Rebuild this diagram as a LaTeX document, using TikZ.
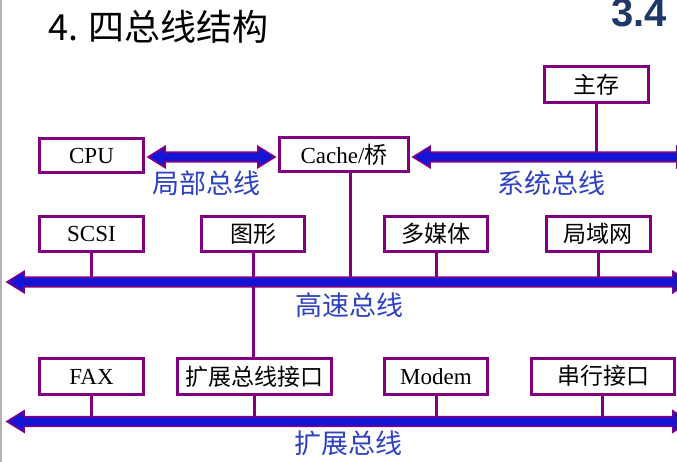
\documentclass[tikz,border=0pt]{standalone}
\usepackage{fontspec}
\setmainfont{Liberation Serif}
\newfontfamily\cjk{Noto Sans CJK SC}
\newfontfamily\sansf{Liberation Sans}
\usetikzlibrary{calc}
\definecolor{bpurple}{RGB}{128,0,128}
\definecolor{bblue}{RGB}{20,20,215}
\definecolor{lblue}{RGB}{45,65,195}
\definecolor{numblue}{RGB}{30,55,105}
\newcommand{\dbus}[2]{%
  \draw[bus] (#1) -- ($(#1)+(17,-10.5)$) -- ($(#1)+(17,-4.8)$) -- ($(#2)+(-17,-4.8)$) -- ($(#2)+(-17,-10.5)$) -- (#2) -- ($(#2)+(-17,10.5)$) -- ($(#2)+(-17,4.8)$) -- ($(#1)+(17,4.8)$) -- ($(#1)+(17,10.5)$) -- cycle;}
\tikzset{
  box/.style={draw=bpurple, line width=3pt, fill=white, inner sep=0pt, font=\fontsize{23}{23}\selectfont},
  conn/.style={draw=bpurple, line width=3pt},
  bus/.style={draw=bpurple, fill=bblue, line width=1.6pt, line join=miter},
  lbl/.style={text=lblue, font=\cjk\fontsize{27}{27}\selectfont, inner sep=0pt}
}
\begin{document}
\begin{tikzpicture}[x=1pt,y=-1pt]
\useasboundingbox (0,0) rectangle (677,462);
\draw[gray!60, line width=1.5pt] (1,0) -- (1,462);
% title
\node[anchor=west, font=\cjk\fontsize{36}{36}\selectfont, inner sep=0pt] (title) at (48,27) {4. 四总线结构};
\node[anchor=base east, font=\sansf\bfseries\fontsize{40}{40}\selectfont, text=numblue, inner sep=0pt] (num) at (667,27) {3.4};
% boxes
\node[box, minimum width=104pt, minimum height=36pt] (mem) at (596.5,84.5) {\cjk 主存};
\node[box, minimum width=104pt, minimum height=34pt] (cpu) at (91.5,156) {CPU};
\node[box, minimum width=129pt, minimum height=34pt] (cache) at (344,155) {Cache/{\cjk 桥}};
\node[box, minimum width=104pt, minimum height=35pt] (scsi) at (91.5,234) {SCSI};
\node[box, minimum width=103pt, minimum height=35pt] (gfx) at (253,234) {\cjk 图形};
\node[box, minimum width=103pt, minimum height=35pt] (mm) at (436,234) {\cjk 多媒体};
\node[box, minimum width=104pt, minimum height=35pt] (lan) at (598,234) {\cjk 局域网};
\node[box, minimum width=104pt, minimum height=36pt] (fax) at (91.5,376.5) {FAX};
\node[box, minimum width=154pt, minimum height=36pt] (ebi) at (254.5,376.5) {\cjk 扩展总线接口};
\node[box, minimum width=103pt, minimum height=36pt] (modem) at (436,376.5) {Modem};
\node[box, minimum width=143pt, minimum height=36pt] (serial) at (603,376) {\cjk 串行接口};
% bus end coordinates
\coordinate (sysR) at (694,157);
\coordinate (hsL) at (7,282);
\coordinate (hsR) at (690,282);
\coordinate (exL) at (7,421.5);
\coordinate (exR) at (690,421.5);
\coordinate (lbL) at ($(cpu.east |- sysR)+(3,0)$);
\coordinate (lbR) at ($(cache.west |- sysR)+(-3,0)$);
\coordinate (sbL) at ($(cache.east |- sysR)+(3,0)$);
\coordinate (cdrop) at ($(cache.south)+(6,0)$);
% connectors
\draw[conn] (mem.south) -- (mem.south |- sysR);
\draw[conn] (cdrop) -- (cdrop |- hsL);
\draw[conn] (scsi.south) -- (scsi.south |- hsL);
\draw[conn] (gfx.south) -- (gfx.south |- ebi.north);
\draw[conn] (mm.south) -- (mm.south |- hsL);
\draw[conn] (lan.south) -- (lan.south |- hsL);
\draw[conn] (fax.south) -- (fax.south |- exL);
\draw[conn] (ebi.south) -- (ebi.south |- exL);
\draw[conn] (modem.south) -- (modem.south |- exL);
\draw[conn] ([xshift=-1pt]serial.south) -- ([xshift=-1pt]serial.south |- exL);
% buses
\dbus{lbL}{lbR}
\dbus{sbL}{sysR}
\dbus{hsL}{hsR}
\dbus{exL}{exR}
% bus labels
\node[lbl] (lblLocal) at (206,183) {局部总线};
\node[lbl] (lblSys) at (551,183) {系统总线};
\node[lbl] (lblHs) at (349,305) {高速总线};
\node[lbl] (lblEx) at (348,443) {扩展总线};
\end{tikzpicture}
\end{document}
